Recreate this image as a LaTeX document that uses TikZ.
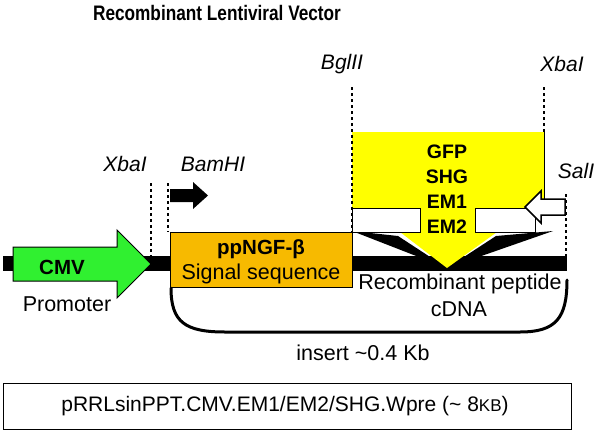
\documentclass[tikz,border=0pt]{standalone}
\usepackage{fontspec}
\setmainfont{Liberation Sans}
\newfontfamily\titlefont[FakeStretch=0.82]{Liberation Sans}
\definecolor{cmvgreen}{RGB}{48,240,48}
\definecolor{ngforange}{RGB}{247,186,0}
\definecolor{gfpyellow}{RGB}{255,255,0}
\begin{document}
\begin{tikzpicture}[x=1pt,y=-1pt,
  dotline/.style={line width=2.8pt, dash pattern=on 2.8pt off 3.2pt, black},
  site/.style={font=\fontsize{21}{25}\selectfont\itshape, inner sep=0pt},
  txt/.style={font=\fontsize{21.5}{25}\selectfont, inner sep=0pt, align=center},
  boldtxt/.style={font=\fontsize{19.5}{25}\selectfont\bfseries, inner sep=0pt, align=center},
  thinline/.style={line width=1pt, black}]
\useasboundingbox (0,0) rectangle (600,434);
% title
\node[font=\titlefont\fontsize{21}{24}\selectfont\bfseries, inner sep=0pt] (title) at (217,13) {Recombinant Lentiviral Vector};
% backbone
\fill[black] (3,256) rectangle (567,271);
% CMV promoter arrow
\draw[thinline, fill=cmvgreen] (13,247) -- (117,247) -- (117,230) -- (151,264) -- (117,298) -- (117,281) -- (13,281) -- cycle;
\node[font=\fontsize{20.5}{24}\selectfont\bfseries, inner sep=0pt] (cmv) at (62,267) {CMV};
\node[txt] (promoter) at (67,304) {Promoter};
% restriction sites (left)
\coordinate (xb1top) at (151,183); \coordinate (xb1bot) at (151,256);
\draw[dotline] (xb1top) -- (xb1bot);
\coordinate (bamtop) at (168,183); \coordinate (bambot) at (168,232);
\draw[dotline] (bamtop) -- (bambot);
\node[site] (xbaIleft) at (125,164) {XbaI};
\node[site] (bamHI) at (213,164) {BamHI};
% BamHI direction arrow
\fill[black] (170,189) -- (193,189) -- (193,182) -- (208,195.5) -- (193,209) -- (193,202) -- (170,202) -- cycle;
% signal sequence box
\draw[thinline, fill=ngforange] (170,232) rectangle (352,287);
\node[txt] (ngf) at (261,262) {{\fontsize{20.5}{25}\selectfont\bfseries ppNGF-β}\\Signal sequence};
% insert bracket
\draw[line width=3pt, line cap=round] (171,288) .. controls (171,322) and (185,332) .. (225,332) -- (520,332) .. controls (556,332) and (567,318) .. (567,280);
\node[txt] (recomb) at (460,284) {Recombinant peptide};
\node[txt] (cdna) at (459,309) {cDNA};
\node[txt] (insert) at (363,353) {insert \textasciitilde0.4 Kb};
% wedges to insertion point
\fill[black] (352,231) -- (398,236) -- (447,268) -- cycle;
\fill[black] (553,231) -- (496,236) -- (447,268) -- cycle;
% yellow insert block arrow
\fill[gfpyellow] (352,132) rectangle (544,208);
\fill[gfpyellow] (420,206) -- (475,206) -- (475,232) -- (497,232) -- (447,268) -- (400,232) -- (420,232) -- cycle;
\draw[thinline] (544,132) -- (544,205);
\draw[thinline, fill=white] (352,208) rectangle (420,232);
\draw[thinline, fill=white] (475,208) rectangle (535,232);
\node[boldtxt] (inserts) at (447,189) {GFP\\SHG\\EM1\\EM2};
% SalI hollow arrow
\draw[line width=1.5pt, fill=white, line join=miter] (525,207) -- (541,191) -- (541,199) -- (565,199) -- (565,215) -- (541,215) -- (541,223) -- cycle;
% restriction sites (right)
\coordinate (bgltop) at (352,87); \coordinate (bglbot) at (352,232);
\draw[dotline] (bgltop) -- (bglbot);
\coordinate (xb2top) at (544,87); \coordinate (xb2bot) at (544,132);
\draw[dotline] (xb2top) -- (xb2bot);
\coordinate (saltop) at (566,194); \coordinate (salbot) at (566,256);
\draw[dotline] (saltop) -- (salbot);
\node[site] (bglII) at (342,64) {BglII};
\node[site] (xbaIright) at (562,64) {XbaI};
\node[site] (salI) at (576,171) {SalI};
% vector name box
\draw[thinline] (3,383) rectangle (571,429);
\node[txt, font=\fontsize{21}{25}\selectfont] (vector) at (285,406) {pRRLsinPPT.CMV.EM1/EM2/SHG.Wpre (\textasciitilde{} 8{\fontsize{17}{18}\selectfont KB})};
\end{tikzpicture}
\end{document}
